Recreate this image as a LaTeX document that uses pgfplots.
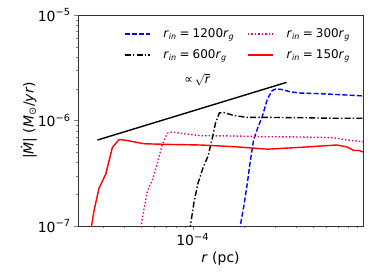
\documentclass[border=0pt]{standalone}
\usepackage{fontspec}
\setmainfont{DejaVu Sans}
\usepackage{pgfplots}
\pgfplotsset{compat=1.18}
\usetikzlibrary{calc}

\newcommand{\rin}[1]{\textit{r}\textsubscript{\textit{in}}\hspace{0.25em}=\hspace{0.25em}#1\textit{r}\textsubscript{\textit{g}}}

\begin{document}
\begin{tikzpicture}
\begin{axis}[
  xmode=log, ymode=log,
  scale only axis, width=285bp, height=211bp,
  xmin=2.15e-5, xmax=9.8e-4, ymin=1e-7, ymax=1e-5,
  xtick={1e-4}, xticklabels={10\textsuperscript{−4}},
  ytick={1e-7,1e-6,1e-5},
  yticklabels={10\textsuperscript{−7},10\textsuperscript{−6},10\textsuperscript{−5}},
  minor xtick={3e-5,4e-5,5e-5,6e-5,7e-5,8e-5,9e-5,2e-4,3e-4,4e-4,5e-4,6e-4,7e-4,8e-4,9e-4},
  minor ytick={2e-7,3e-7,4e-7,5e-7,6e-7,7e-7,8e-7,9e-7,2e-6,3e-6,4e-6,5e-6,6e-6,7e-6,8e-6,9e-6},
  tick align=outside, tick pos=left,
  major tick length=4bp, minor tick length=2.3bp,
  axis line style={black!80, line width=0.8bp},
  tick label style={font=\fontsize{14}{16}\selectfont},
  xlabel={\textit{r} (pc)},
  ylabel={|\textit{Ṁ}| (\textit{M}\textsubscript{⊙}/\textit{yr})},
  label style={font=\fontsize{14}{16}\selectfont},
  xlabel style={at={(axis description cs:0.5,-0.156)}, anchor=center},
  ylabel style={at={(axis description cs:-0.172,0.5)}, anchor=center, rotate=0},
  legend columns=2,
  legend cell align=left,
  legend style={at={(0.965,0.95)}, anchor=north east, draw=white, fill=white, inner sep=1bp,
    font=\fontsize{12}{14}\selectfont, column sep=11bp},
  legend image code/.code={\draw[#1] (0bp,0bp) -- (25bp,0bp);},
]
\addplot[black, line width=1.4bp, forget plot] coordinates {(2.79e-5,6.53e-7) (3.52e-4,2.30e-6)};

\addplot[color=blue, line width=1.4bp, dash pattern=on 5bp off 2.2bp] coordinates {
(1.87e-4,9e-8) (1.99e-4,1.58e-7) (2.08e-4,2.54e-7) (2.14e-4,3.62e-7) (2.26e-4,6.53e-7)
(2.40e-4,8.67e-7) (2.54e-4,1.087e-6) (2.72e-4,1.60e-6) (2.90e-4,1.92e-6) (3.04e-4,1.99e-6)
(3.29e-4,1.97e-6) (3.71e-4,1.87e-6) (4.25e-4,1.82e-6) (5.31e-4,1.80e-6) (6.63e-4,1.77e-6)
(9.87e-4,1.71e-6)};
\addlegendentry{\rin{1200}}

\addplot[color=magenta, line width=1.4bp, dash pattern=on 1.4bp off 2.1bp] coordinates {
(4.95e-5,9e-8) (5.21e-5,1.45e-7) (5.45e-5,2.15e-7) (5.83e-5,2.73e-7) (6.23e-5,3.95e-7)
(6.67e-5,5.98e-7) (7.11e-5,7.57e-7) (7.62e-5,7.78e-7) (8.51e-5,7.57e-7) (1.11e-4,7.18e-7)
(1.74e-4,7.13e-7) (2.72e-4,7.02e-7) (4.25e-4,6.98e-7) (6.63e-4,6.87e-7) (7.93e-4,6.53e-7)
(9.87e-4,6.30e-7)};
\addlegendentry{\rin{300}}

\addplot[color=black, line width=1.4bp, dash pattern=on 6bp off 2.2bp on 1.4bp off 2.2bp, forget plot] coordinates {
(9.6e-5,9e-8) (1.018e-4,1.69e-7) (1.076e-4,2.58e-7) (1.151e-4,3.59e-7) (1.23e-4,4.63e-7)
(1.30e-4,6.78e-7) (1.36e-4,9.57e-7) (1.43e-4,1.18e-6) (1.52e-4,1.19e-6) (1.74e-4,1.115e-6)
(2.08e-4,1.07e-6) (2.72e-4,1.07e-6) (4.25e-4,1.064e-6) (6.63e-4,1.05e-6) (9.87e-4,1.05e-6)};

\addplot[color=red, line width=1.4bp, forget plot] coordinates {
(2.55e-5,9e-8) (2.67e-5,1.42e-7) (2.85e-5,2.28e-7) (3.12e-5,3.11e-7) (3.41e-5,5.55e-7)
(3.73e-5,6.61e-7) (4.17e-5,6.46e-7) (5.21e-5,6.02e-7) (7.13e-5,5.94e-7) (1.11e-4,5.86e-7)
(1.74e-4,5.65e-7) (2.72e-4,5.35e-7) (4.25e-4,5.57e-7) (6.93e-4,5.86e-7) (7.93e-4,5.61e-7)
(8.67e-4,5.20e-7) (9.27e-4,5.20e-7) (9.87e-4,5.02e-7)};

\node[font=\fontsize{12}{14}\selectfont] at (axis cs:1.06e-4,2.45e-6) {∝\,$\sqrt{\mbox{\itshape r}}$};
\end{axis}

\begin{axis}[
  xmode=log, ymode=log,
  scale only axis, width=285bp, height=211bp,
  xmin=2.15e-5, xmax=9.8e-4, ymin=1e-7, ymax=1e-5,
  hide axis,
  legend columns=2,
  legend cell align=left,
  legend style={at={(0.965,0.85)}, anchor=north east, draw=white, fill=white, inner sep=1bp,
    font=\fontsize{12}{14}\selectfont, column sep=11bp},
  legend image code/.code={\draw[#1] (0bp,0bp) -- (25bp,0bp);},
]
\addlegendimage{color=black, line width=1.4bp, dash pattern=on 6bp off 2.2bp on 1.4bp off 2.2bp}
\addlegendentry{\rin{600}\phantom{0}}
\addlegendimage{color=red, line width=1.4bp}
\addlegendentry{\rin{150}}
\end{axis}
\pgfresetboundingbox
\path ($(current axis.south west)+(-78bp,-54bp)$) rectangle ($(current axis.north east)+(11bp,15bp)$);
\end{tikzpicture}
\end{document}
